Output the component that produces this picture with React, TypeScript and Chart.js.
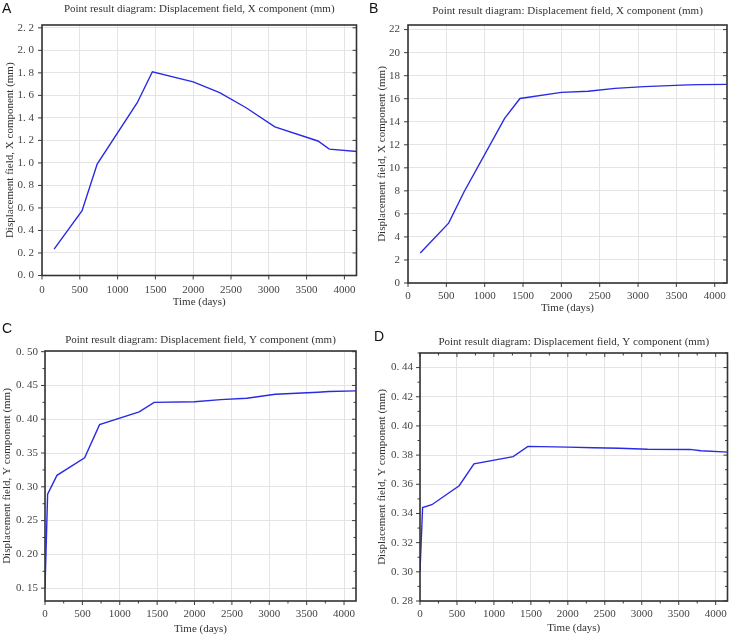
import React, { useEffect, useRef } from "react";
import { Chart, registerables } from "chart.js";
Chart.register(...registerables);

// ---------- data ----------
const timeAB = [160, 530, 730, 1260, 1460, 2000, 2350, 2700, 3080, 3650, 3800, 4180];
const dispXA = [0.235, 0.575, 0.99, 1.535, 1.81, 1.72, 1.625, 1.49, 1.32, 1.195, 1.122, 1.1];
const dispXB = [2.6, 5.2, 7.9, 14.3, 16.02, 16.55, 16.65, 16.9, 17.05, 17.2, 17.22, 17.25];
const timeCD = [0, 35, 160, 530, 730, 1260, 1460, 2000, 2350, 2700, 3080, 3650, 3800, 4180];
const dispYC = [0.15, 0.289, 0.317, 0.343, 0.392, 0.411, 0.425, 0.426, 0.429, 0.431, 0.437, 0.44, 0.441, 0.442];
const dispYD = [0.3, 0.344, 0.346, 0.359, 0.374, 0.379, 0.386, 0.3855, 0.385, 0.3847, 0.384, 0.3839, 0.383, 0.382];

const timeTicks = [0, 500, 1000, 1500, 2000, 2500, 3000, 3500, 4000];
const ticksYA = [0, 0.2, 0.4, 0.6, 0.8, 1.0, 1.2, 1.4, 1.6, 1.8, 2.0, 2.2];
const ticksYB = [0, 2, 4, 6, 8, 10, 12, 14, 16, 18, 20, 22];
const ticksYC = [0.15, 0.2, 0.25, 0.3, 0.35, 0.4, 0.45, 0.5];
const ticksYD = [0.28, 0.3, 0.32, 0.34, 0.36, 0.38, 0.4, 0.42, 0.44];

const titleX = "Point result diagram: Displacement field, X component (mm)";
const titleY = "Point result diagram: Displacement field, Y component (mm)";
const yTitleX = "Displacement field, X component (mm)";
const yTitleY = "Displacement field, Y component (mm)";
const xTitle = "Time (days)";

const SERIF = "'Liberation Serif', 'DejaVu Serif', serif";
const LINE = "#2a2ae4";

type Spec = {
  letter: string; letterX: number; letterY: number;
  title: string; titleYPos: number; yTitle: string;
  xs: number[]; ys: number[];
  xMax: number; yMin: number; yMax: number;
  yTicks: number[]; yDec: number;
  minor: boolean; topTicks: boolean;
  left: number; top: number; width: number; height: number;
  pl: number; pr: number; pt: number; pb: number;
  yTitlePad: number; xTitlePad: number; xTickPad: number; yTickPad: number;
};

const fmt = (v: number, d: number) => (d > 0 ? v.toFixed(d).replace(".", ". ") : String(Math.round(v)));

const framePlugin = {
  id: "frameDeco",
  afterDraw(chart: any, _a: any, o: any) {
    const { ctx, chartArea: a, scales } = chart;
    const xs = scales.x, ys = scales.y;
    ctx.save();
    const seg = (x1: number, y1: number, x2: number, y2: number) => {
      ctx.beginPath(); ctx.moveTo(x1, y1); ctx.lineTo(x2, y2); ctx.stroke();
    };
    ctx.strokeStyle = "#3c3c3c";
    ctx.lineWidth = 1;
    const M = 4, m = 2.5;
    const xv = xs.ticks.map((t: any) => t.value);
    const yv = ys.ticks.map((t: any) => t.value);
    xv.forEach((v: number) => {
      const x = xs.getPixelForValue(v);
      seg(x, a.bottom, x, a.bottom + M);
      if (o.topTicks) seg(x, a.top, x, a.top + M);
    });
    yv.forEach((v: number) => {
      const y = ys.getPixelForValue(v);
      seg(a.left - M, y, a.left, y);
      seg(a.right - M, y, a.right, y);
    });
    if (o.minor) {
      const mids = (arr: number[], lo: number, hi: number) => {
        const out: number[] = [];
        const st = arr[1] - arr[0];
        for (let i = -1; i < arr.length; i++) {
          const v = arr[0] + (i + 0.5) * st;
          if (v > lo && v < hi) out.push(v);
        }
        return out;
      };
      mids(xv, xs.min, xs.max).forEach((v) => {
        const x = xs.getPixelForValue(v);
        seg(x, a.bottom, x, a.bottom + m);
        if (o.topTicks) seg(x, a.top, x, a.top + m);
      });
      mids(yv, ys.min, ys.max).forEach((v) => {
        const y = ys.getPixelForValue(v);
        seg(a.left - m, y, a.left, y);
        seg(a.right - m, y, a.right, y);
      });
    }
    ctx.lineWidth = 1.6;
    ctx.strokeStyle = "#333";
    ctx.strokeRect(a.left, a.top, a.right - a.left, a.bottom - a.top);
    // title
    ctx.fillStyle = "#333";
    ctx.font = `11px ${SERIF}`;
    ctx.textAlign = "center";
    ctx.textBaseline = "middle";
    ctx.fillText(o.title, (a.left + a.right) / 2, o.titleYPos);
    // letter
    ctx.fillStyle = "#111";
    ctx.font = "14px 'Liberation Sans', Arial, sans-serif";
    ctx.textAlign = "left";
    ctx.textBaseline = "alphabetic";
    ctx.fillText(o.letter, o.letterX, o.letterY);
    ctx.restore();
  },
};

function Panel({ s }: { s: Spec }) {
  const ref = useRef<HTMLCanvasElement | null>(null);
  useEffect(() => {
    if (!ref.current) return;
    const chart = new Chart(ref.current, {
      type: "line",
      data: {
        datasets: [
          {
            data: s.xs.map((x, i) => ({ x, y: s.ys[i] })),
            borderColor: LINE,
            borderWidth: 1.4,
            pointRadius: 0,
            fill: false,
            tension: 0,
          },
        ],
      },
      options: {
        animation: false,
        responsive: false,
        maintainAspectRatio: false,
        events: [],
        layout: { padding: { top: s.pt, right: s.width - s.pr, left: 0, bottom: 0 } },
        plugins: {
          legend: { display: false },
          tooltip: { enabled: false },
          title: { display: false },
          frameDeco: { title: s.title, titleYPos: s.titleYPos, letter: s.letter, letterX: s.letterX, letterY: s.letterY, minor: s.minor, topTicks: s.topTicks },
        } as any,
        scales: {
          x: {
            type: "linear",
            min: 0,
            max: s.xMax,
            afterBuildTicks: (sc: any) => { sc.ticks = timeTicks.map((v) => ({ value: v })); },
            afterFit: (sc: any) => { sc.height = s.height - s.pb; },
            grid: { color: "#e4e4e4", lineWidth: 1, drawTicks: false },
            border: { display: false },
            ticks: { padding: s.xTickPad, autoSkip: false, maxRotation: 0, color: "#444", font: { family: SERIF, size: 11 }, callback: (v: any) => String(v) },
            title: { display: true, text: xTitle, color: "#333", font: { family: SERIF, size: 11 }, padding: { top: 0, bottom: s.xTitlePad } },
          },
          y: {
            type: "linear",
            min: s.yMin,
            max: s.yMax,
            afterBuildTicks: (sc: any) => { sc.ticks = s.yTicks.map((v) => ({ value: v })); },
            afterFit: (sc: any) => { sc.width = s.pl; },
            grid: { color: "#e4e4e4", lineWidth: 1, drawTicks: false },
            border: { display: false },
            ticks: { padding: s.yTickPad, autoSkip: false, color: "#444", font: { family: SERIF, size: 11 }, callback: (v: any) => fmt(Number(v), s.yDec) },
            title: { display: true, text: s.yTitle, color: "#333", font: { family: SERIF, size: 11 }, padding: { top: s.yTitlePad, bottom: 0 } },
          },
        },
      } as any,
      plugins: [framePlugin as any],
    });
    return () => chart.destroy();
  }, [s]);
  return (
    <canvas
      ref={ref}
      width={s.width}
      height={s.height}
      style={{ position: "absolute", left: s.left, top: s.top, width: s.width, height: s.height }}
    />
  );
}

const panels: Spec[] = [
  {
    letter: "A", letterX: 2, letterY: 13, title: titleX, titleYPos: 9, yTitle: yTitleX,
    xs: timeAB, ys: dispXA, xMax: 4160, yMin: 0, yMax: 2.225, yTicks: ticksYA, yDec: 1,
    minor: false, topTicks: false,
    left: 0, top: 0, width: 367, height: 318, pl: 42, pr: 356.5, pt: 25, pb: 275.5,
    yTitlePad: 3.4, xTitlePad: 9.4, xTickPad: 8, yTickPad: 8,
  },
  {
    letter: "B", letterX: 2, letterY: 13, title: titleX, titleYPos: 11, yTitle: yTitleX,
    xs: timeAB, ys: dispXB, xMax: 4160, yMin: 0, yMax: 22.4, yTicks: ticksYB, yDec: 0,
    minor: false, topTicks: false,
    left: 367, top: 0, width: 367, height: 318, pl: 41, pr: 360, pt: 25, pb: 283,
    yTitlePad: 8.4, xTitlePad: 3.4, xTickPad: 7, yTickPad: 8,
  },
  {
    letter: "C", letterX: 2, letterY: 15, title: titleY, titleYPos: 21.7, yTitle: yTitleY,
    xs: timeCD, ys: dispYC, xMax: 4160, yMin: 0.131, yMax: 0.501, yTicks: ticksYC, yDec: 2,
    minor: true, topTicks: false,
    left: 0, top: 318, width: 367, height: 319, pl: 45, pr: 356, pt: 33, pb: 283,
    yTitlePad: 0.7, xTitlePad: 1.4, xTickPad: 7, yTickPad: 7,
  },
  {
    letter: "D", letterX: 7, letterY: 23, title: titleY, titleYPos: 24, yTitle: yTitleY,
    xs: timeCD, ys: dispYD, xMax: 4160, yMin: 0.28, yMax: 0.45, yTicks: ticksYD, yDec: 2,
    minor: true, topTicks: true,
    left: 367, top: 318, width: 367, height: 319, pl: 53, pr: 360.5, pt: 35, pb: 283,
    yTitlePad: 8.4, xTitlePad: 2.4, xTickPad: 7, yTickPad: 7,
  },
];

export default function App() {
  return (
    <div style={{ position: "absolute", left: 0, top: 0, width: 734, height: 637, background: "#fff" }}>
      {panels.map((p) => (
        <Panel key={p.letter} s={p} />
      ))}
    </div>
  );
}
